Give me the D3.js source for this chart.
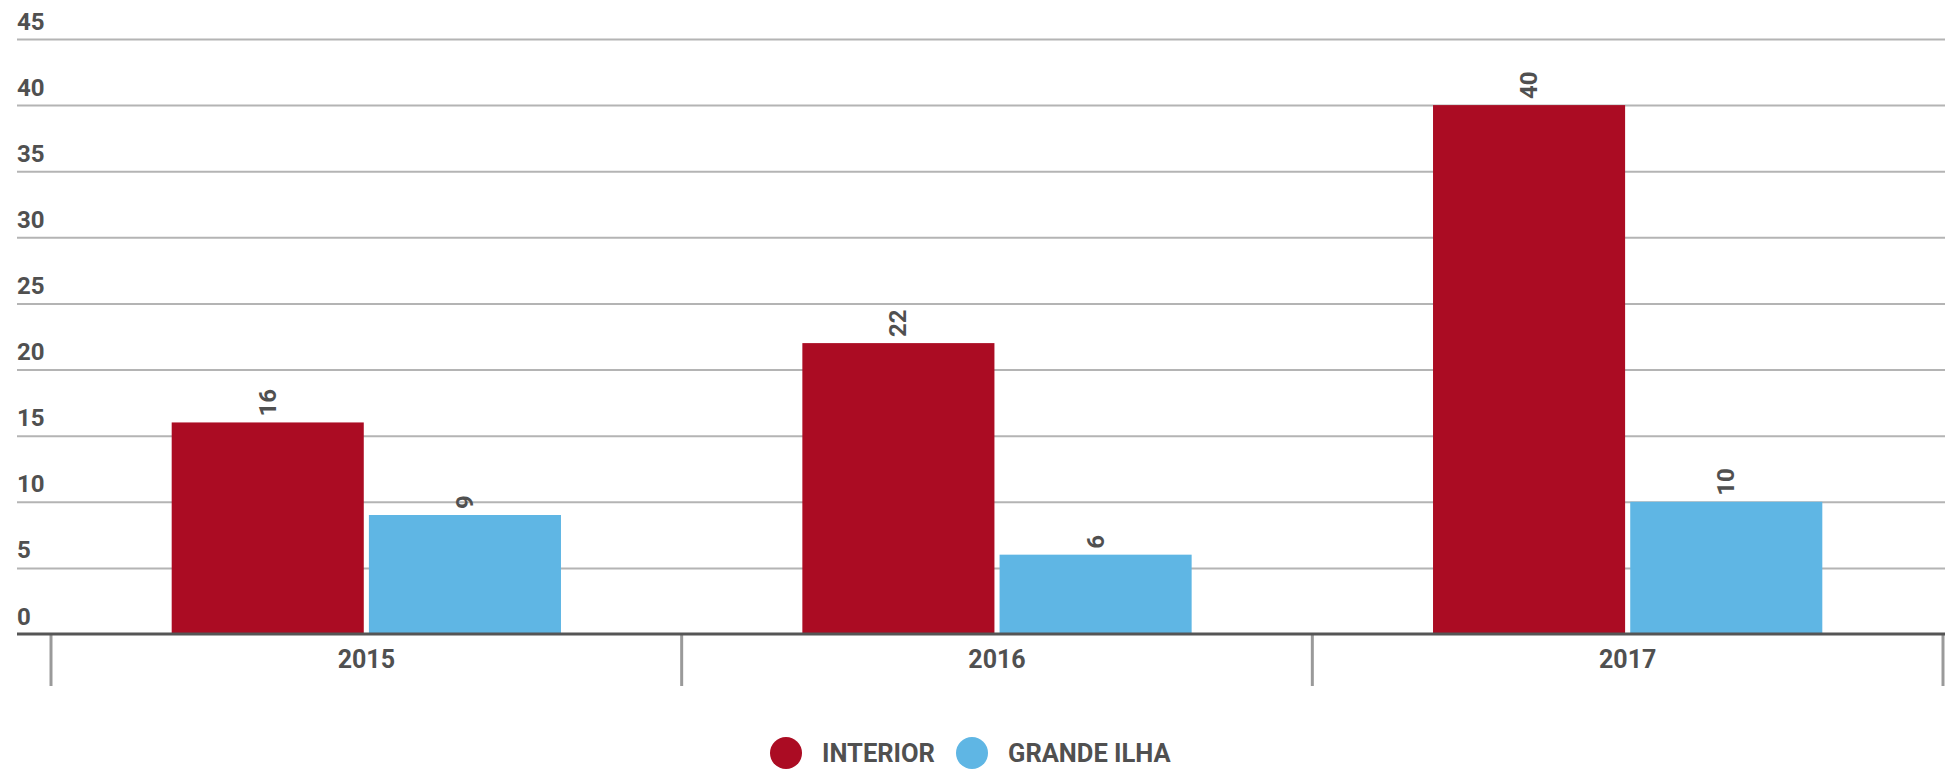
<!DOCTYPE html>
<html>
<head>
<meta charset="utf-8">
<script src="https://d3js.org/d3.v7.min.js"></script>
<style>
  body { margin: 0; background: white; }
  text { font-family: Roboto, "Noto Sans", sans-serif; font-weight: bold; fill: #505050; }
</style>
</head>
<body>
<svg id="mainSvg" width="1950" height="769"></svg>
<script>
var years = ["2015", "2016", "2017"];
var series = ["INTERIOR", "GRANDE ILHA"];
var interior = [16, 22, 40];
var grandeIlha = [9, 6, 10];
var yTicks = [0, 5, 10, 15, 20, 25, 30, 35, 40, 45];
var colors = ["#ab0c23", "#5fb6e4"];

var svg = d3.select("#mainSvg");
var gridLeft = 17;
var gridRight = 1945;

var y = d3.scaleLinear().domain([0, 45]).range([634, 39]);

var x0 = d3.scaleBand().domain(years).range([51, 1943]).padding(0);
var x1 = d3.scaleBand().domain(series).range([0, x0.bandwidth()])
  .paddingInner(0.026).paddingOuter(0.612);

// horizontal grid lines + tick labels
var yAxis = d3.axisLeft(y).tickValues(yTicks).tickSize(0).tickFormat(d3.format("d"));
var gy = svg.append("g").attr("transform", "translate(" + gridLeft + ",0)").call(yAxis);
gy.select(".domain").remove();
gy.selectAll(".tick line")
  .attr("x1", 0)
  .attr("x2", gridRight - gridLeft)
  .attr("stroke", "#b4b4b4")
  .attr("stroke-width", 2);
gy.selectAll(".tick line").filter(function(d){ return d === 0; }).remove();
gy.selectAll(".tick text")
  .attr("x", 0)
  .attr("dy", -10)
  .attr("text-anchor", "start")
  .attr("font-size", 24)
  .attr("fill", "#505050");

// bars
var rows = years.map(function(yr, i){
  return {year: yr, values: [
    {key: series[0], value: interior[i]},
    {key: series[1], value: grandeIlha[i]}
  ]};
});

var groups = svg.selectAll(".group")
  .data(rows)
  .enter().append("g")
    .attr("class", "group")
    .attr("transform", function(d){ return "translate(" + x0(d.year) + ",0)"; });

groups.selectAll("rect")
  .data(function(d){ return d.values; })
  .enter().append("rect")
    .attr("x", function(d){ return x1(d.key); })
    .attr("y", function(d){ return y(d.value); })
    .attr("width", x1.bandwidth())
    .attr("height", function(d){ return y(0) - y(d.value); })
    .attr("fill", function(d, i){ return colors[i]; });

groups.selectAll(".val")
  .data(function(d){ return d.values; })
  .enter().append("text")
    .attr("class", "val")
    .attr("font-size", 24)
    .attr("text-anchor", "start")
    .attr("dominant-baseline", "central")
    .attr("transform", function(d){
      var cx = x1(d.key) + x1.bandwidth() / 2;
      return "translate(" + cx + "," + (y(d.value) - 6) + ") rotate(-90)";
    })
    .text(function(d){ return d.value; });

// bottom axis
var xAxis = d3.axisBottom(x0).tickSize(0);
var gx = svg.append("g").attr("transform", "translate(0," + y(0) + ")").call(xAxis);
gx.select(".domain").remove();
gx.selectAll(".tick text")
  .attr("dy", 0)
  .attr("y", 34)
  .attr("font-size", 25)
  .attr("fill", "#505050");

var bounds = [51].concat(years.map(function(yr){ return x0(yr) + x0.bandwidth(); }));
svg.selectAll(".sep")
  .data(bounds)
  .enter().append("line")
    .attr("class", "sep")
    .attr("x1", function(d){ return d; })
    .attr("x2", function(d){ return d; })
    .attr("y1", y(0))
    .attr("y2", 686)
    .attr("stroke", "#9a9a9a")
    .attr("stroke-width", 3);

svg.append("line")
  .attr("x1", gridLeft)
  .attr("x2", gridRight)
  .attr("y1", y(0))
  .attr("y2", y(0))
  .attr("stroke", "#555")
  .attr("stroke-width", 3);

// legend
var legendX = [786, 972];
var legend = svg.selectAll(".legend")
  .data(series)
  .enter().append("g")
    .attr("class", "legend")
    .attr("transform", function(d, i){ return "translate(" + legendX[i] + ",753)"; });
legend.append("circle")
  .attr("r", 16)
  .attr("fill", function(d, i){ return colors[i]; });
legend.append("text")
  .attr("x", 36)
  .attr("y", 9)
  .attr("font-size", 25.5)
  .text(function(d){ return d; });
</script>
</body>
</html>
